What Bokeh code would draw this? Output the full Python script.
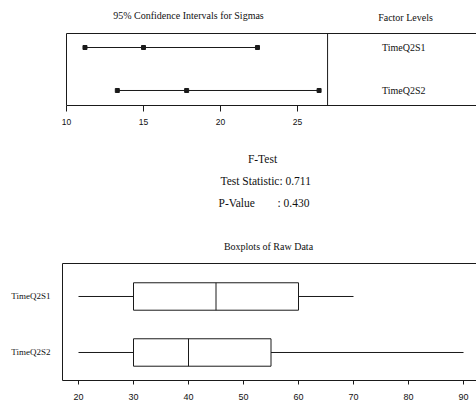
from bokeh.plotting import figure
from bokeh.models import Range1d, LinearAxis, FixedTicker, Span, ColumnDataSource
from bokeh.layouts import column
from bokeh.embed import file_html
from bokeh.resources import INLINE
from bokeh.core.properties import value

# ---------------- data ----------------
factors = ["TimeQ2S1", "TimeQ2S2"]
sigma_lower = [11.2, 13.3]
sigma_est = [15.0, 17.8]
sigma_upper = [22.4, 26.4]
whisker_low = [20, 20]
q1 = [30, 30]
median = [45, 40]
q3 = [60, 55]
whisker_high = [70, 90]
test_statistic = 0.711
p_value = 0.430
ci_ticks = [10, 15, 20, 25]
box_ticks = [20, 30, 40, 50, 60, 70, 80, 90]

SERIF = "Liberation Serif"
SANS = "Liberation Sans"
LINE = "#1a1a1a"
TXT = "#111111"
W = 476
rows = [i + 1 for i in range(len(factors))]


def no_frame_align(p):
    if "frame_align" in p.properties():
        p.frame_align = False


def blank_axis(ax):
    ax.ticker = FixedTicker(ticks=[])
    ax.major_tick_line_color = None
    ax.minor_tick_line_color = None
    ax.major_tick_out = 0
    ax.major_tick_in = 0
    ax.major_label_standoff = 0
    ax.major_label_text_font_size = "0px"
    ax.axis_line_color = LINE
    ax.axis_line_width = 1


def text_panel(h):
    t = figure(width=W, height=h, output_backend="svg", toolbar_location=None,
               x_range=Range1d(0, W), y_range=Range1d(h, 0),
               min_border_left=0, min_border_right=0, min_border_top=0, min_border_bottom=0)
    t.axis.visible = False
    t.grid.visible = False
    t.outline_line_color = None
    no_frame_align(t)
    return t


def put(t, x, y, text, size, align="center"):
    t.text(x=[x], y=[y], text=[text], text_font=value(SERIF), text_font_size=size,
           text_align=align, text_baseline="middle", text_color=TXT)


# ---------------- title strip for top panel ----------------
t1 = text_panel(31)
put(t1, 188, 15, "95% Confidence Intervals for Sigmas", "10px")
put(t1, 405, 17, "Factor Levels", "10px")

# ---------------- top: confidence intervals ----------------
p1 = figure(width=W, height=104, output_backend="svg", toolbar_location=None,
            x_range=Range1d(10, 36.62), y_range=Range1d(2.349, 0.674),
            min_border_left=66, min_border_right=0, min_border_top=2, min_border_bottom=30)
no_frame_align(p1)
p1.outline_line_color = None
p1.xgrid.visible = False
p1.ygrid.visible = False
xa = p1.xaxis[0]
xa.ticker = FixedTicker(ticks=ci_ticks)
xa.minor_tick_line_color = None
xa.major_tick_out = 6
xa.major_tick_in = 0
xa.major_label_standoff = 7
xa.major_label_text_font = SANS
xa.major_label_text_font_size = "8.5px"
xa.major_label_text_color = TXT
xa.axis_line_color = LINE
xa.major_tick_line_color = LINE
blank_axis(p1.yaxis[0])
top1 = LinearAxis()
blank_axis(top1)
p1.add_layout(top1, "above")

ci_src = ColumnDataSource(dict(row=rows, lo=sigma_lower, est=sigma_est, hi=sigma_upper, name=factors))
p1.segment(x0="lo", y0="row", x1="hi", y1="row", source=ci_src, line_color=LINE, line_width=1)
for col in ["lo", "est", "hi"]:
    p1.scatter(x=col, y="row", source=ci_src, marker="square", size=4,
               fill_color=LINE, line_color=LINE)
p1.add_layout(Span(location=26.95, dimension="height", line_color=LINE, line_width=1))
p1.text(x=31.9, y="row", text="name", source=ci_src, text_font=value(SERIF),
        text_font_size="10px", text_align="center", text_baseline="middle", text_color=TXT)

# ---------------- middle: F-test text and boxplot title ----------------
tm = text_panel(126)
put(tm, 262, 23, "F-Test", "11.5px")
put(tm, 220, 45, f"Test Statistic: {test_statistic:.3f}", "11.5px", "left")
put(tm, 218, 67, "P-Value", "11.5px", "left")
put(tm, 277, 67, f": {p_value:.3f}", "11.5px", "left")
put(tm, 268, 111, "Boxplots of Raw Data", "10px")

# ---------------- bottom: boxplots ----------------
p3 = figure(width=W, height=142, output_backend="svg", toolbar_location=None,
            x_range=Range1d(17.09, 92.36), y_range=Range1d(2.5, 0.411),
            min_border_left=62, min_border_right=0, min_border_top=2, min_border_bottom=23)
no_frame_align(p3)
p3.outline_line_color = None
p3.xgrid.visible = False
p3.ygrid.visible = False
bx = p3.xaxis[0]
bx.ticker = FixedTicker(ticks=box_ticks)
bx.minor_tick_line_color = None
bx.major_tick_out = 4
bx.major_tick_in = 0
bx.major_label_standoff = 9
bx.major_label_text_font = SANS
bx.major_label_text_font_size = "9px"
bx.major_label_text_color = TXT
bx.axis_line_color = LINE
bx.major_tick_line_color = LINE
ya = p3.yaxis[0]
ya.ticker = FixedTicker(ticks=rows)
ya.major_label_overrides = {r: f for r, f in zip(rows, factors)}
ya.major_tick_line_color = None
ya.minor_tick_line_color = None
ya.major_tick_out = 0
ya.major_label_standoff = 12
ya.major_label_text_font = SERIF
ya.major_label_text_font_size = "9px"
ya.major_label_text_color = TXT
ya.axis_line_color = LINE
top3 = LinearAxis()
blank_axis(top3)
p3.add_layout(top3, "above")

bh = 0.49
bsrc = ColumnDataSource(dict(row=rows, wl=whisker_low, q1=q1, med=median, q3=q3, wh=whisker_high,
                             top=[r - bh / 2 for r in rows], bot=[r + bh / 2 for r in rows]))
p3.segment(x0="wl", y0="row", x1="q1", y1="row", source=bsrc, line_color=LINE, line_width=1)
p3.segment(x0="q3", y0="row", x1="wh", y1="row", source=bsrc, line_color=LINE, line_width=1)
p3.hbar(y="row", left="q1", right="q3", height=bh, source=bsrc,
        fill_color="white", line_color=LINE, line_width=1)
p3.segment(x0="med", y0="top", x1="med", y1="bot", source=bsrc, line_color=LINE, line_width=1)

layout = column(column(t1, p1, spacing=0), column(tm, p3, spacing=0), spacing=0)
open("out.html", "w").write(file_html(layout, INLINE))
